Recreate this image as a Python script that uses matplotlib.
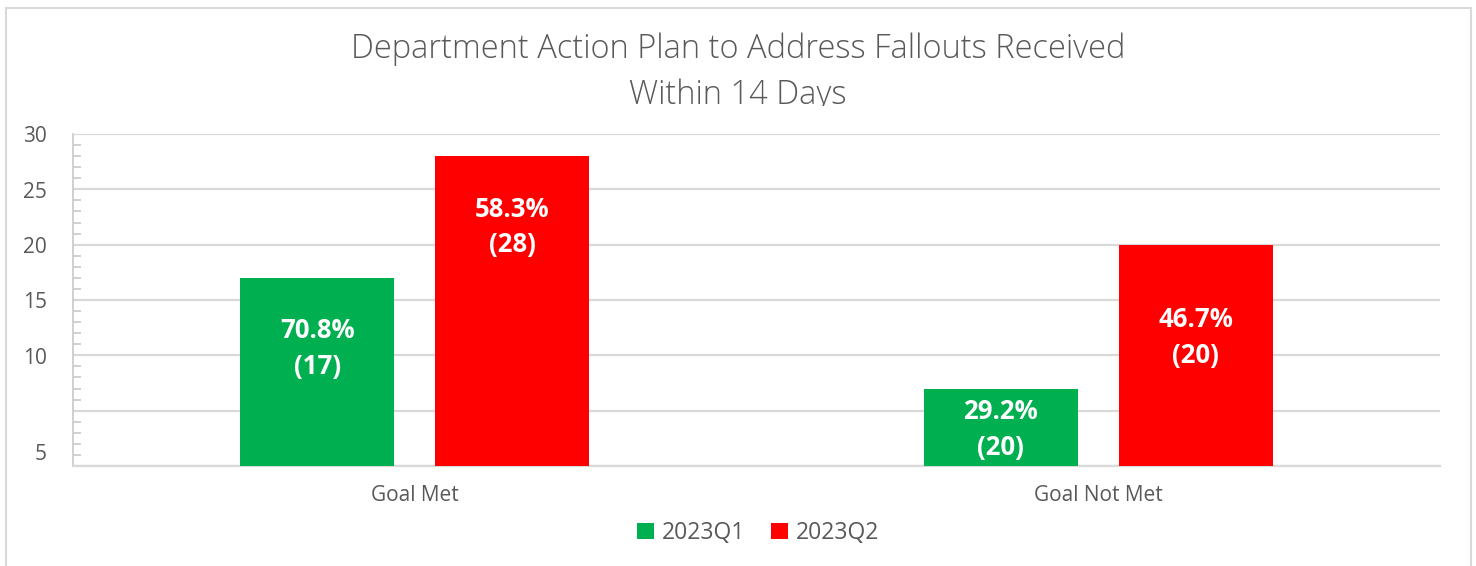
import matplotlib
matplotlib.use("Agg")
import matplotlib.pyplot as plt
from matplotlib.lines import Line2D
from matplotlib.transforms import Bbox, TransformedBbox
import numpy as np

# ---- data ----
categories = ["Goal Met", "Goal Not Met"]
series_names = ["2023Q1", "2023Q2"]
q1_values = [17, 7]
q2_values = [28, 20]
q1_labels = ["70.8%\n(17)", "29.2%\n(20)"]
q2_labels = ["58.3%\n(28)", "46.7%\n(20)"]
ytick_labels = ["5", "10", "15", "20", "25", "30"]
title = "Department Action Plan to Address Fallouts Received\nWithin 14 Days"

# ---- layout / style ----
W, H = 1476, 566
dpi = 100
green = "#00B050"
red = "#FF0000"
gray_text = "#595959"
grid_col = "#D9D9D9"
q1_label_y = [10.6, 3.3]
q2_label_y = [21.6, 11.6]
ytick_pos = [1.25, 10, 15, 20, 25, 30]

fig = plt.figure(figsize=(W / dpi, H / dpi), dpi=dpi)
fig.patch.set_facecolor("white")

def fx(px):
    return px / W

def fy(py):
    return 1 - py / H

ax_left, ax_right, ax_top, ax_bot = 73, 1440, 134, 466
ax = fig.add_axes([fx(ax_left), fy(ax_bot), fx(ax_right - ax_left), (ax_bot - ax_top) / H])

x = np.arange(len(categories))
bw = 0.2253
off = 0.1425
b1 = ax.bar(x - off, q1_values, bw, color=green, label=series_names[0], zorder=3)
b2 = ax.bar(x + off, q2_values, bw, color=red, label=series_names[1], zorder=3)

for i in range(len(categories)):
    ax.text(x[i] - off, q1_label_y[i], q1_labels[i], ha="center", va="center",
            color="white", fontsize=18.5, fontweight="bold", family="Open Sans",
            linespacing=1.4, zorder=4)
    ax.text(x[i] + off, q2_label_y[i], q2_labels[i], ha="center", va="center",
            color="white", fontsize=18.5, fontweight="bold", family="Open Sans",
            linespacing=1.4, zorder=4)

ax.set_xlim(-0.5, 1.5)
ax.set_ylim(0, 30)
ax.set_yticks(np.arange(0, 31, 5))
ax.set_yticklabels([])
ax.set_yticks(np.arange(0, 31, 1), minor=True)
ax.tick_params(axis="y", which="both", direction="in", length=6, width=1.2,
               color="#C8C8C8", left=True)
ax.tick_params(axis="y", which="major", length=0)
ax.grid(axis="y", which="major", color=grid_col, linewidth=1.6, zorder=0)
ax.set_xticks(x)
ax.set_xticklabels(categories, fontsize=15, color=gray_text, family="Open Sans")
ax.tick_params(axis="x", length=0, pad=14)
for s in ["top", "right"]:
    ax.spines[s].set_visible(False)
ax.spines["bottom"].set_color(grid_col)
ax.spines["bottom"].set_linewidth(1.6)
ax.spines["left"].set_color("#C8C8C8")
ax.spines["left"].set_linewidth(1.2)

for pos, lab in zip(ytick_pos, ytick_labels):
    ax.text(-0.5 - 0.038, pos - 0.25, lab, ha="right", va="center", fontsize=15,
            color=gray_text, family="Open Sans", transform=ax.transData, clip_on=False)

# title (second line's descenders clipped, as in reference)
t = fig.text(fx(738), fy(72), title, ha="center", va="center", fontsize=23.5,
             color=gray_text, family="Open Sans", fontweight="light", linespacing=1.5)
clip = TransformedBbox(Bbox([[0, fy(106)], [1, 1]]), fig.transFigure)
t.set_clip_box(clip)
t.set_clip_on(True)

# legend
leg = fig.legend(handles=[b1, b2], labels=series_names, loc="center",
                 bbox_to_anchor=(fx(758), fy(533)), ncol=2, frameon=False,
                 handlelength=0.75, handleheight=0.75, handletextpad=0.35,
                 columnspacing=1.1, prop={"family": "Open Sans", "size": 16.5})
for txt in leg.get_texts():
    txt.set_color(gray_text)

# outer border
bc = "#D9D9D9"
fig.add_artist(Line2D([fx(6), fx(6)], [0, fy(8)], color=bc, lw=1.5, transform=fig.transFigure))
fig.add_artist(Line2D([fx(6), fx(1471)], [fy(8), fy(8)], color=bc, lw=1.5, transform=fig.transFigure))
fig.add_artist(Line2D([fx(1471), fx(1471)], [fy(8), 0], color=bc, lw=1.5, transform=fig.transFigure))

fig.savefig("out.png", dpi=dpi, facecolor="white")
